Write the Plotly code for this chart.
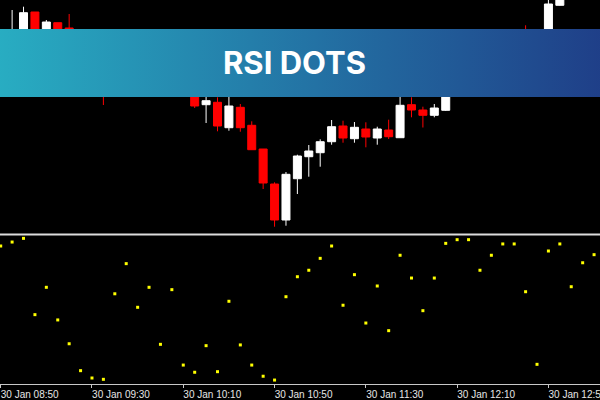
import plotly.graph_objects as go

# ---- data ----
bar_index = list(range(53))

opens = [1.08420, 1.08460, 1.08455, 1.08488, 1.08462, 1.084773, 1.08472, 1.08450, 1.08430, 1.08415,
         1.08405, 1.08425, 1.08445, 1.08430, 1.08440, 1.08420, 1.08430, 1.08412, 1.083953, 1.083977,
         1.083723, 1.083927, 1.083747, 1.08351, 1.08316, 1.08280, 1.083213, 1.083433, 1.083473, 1.083583,
         1.08374, 1.083613, 1.08371, 1.08362, 1.08370, 1.083623, 1.083953, 1.08390, 1.083847, 1.083897,
         1.08415, 1.08435, 1.08450, 1.08440, 1.08452, 1.08460, 1.08464, 1.08445, 1.08415, 1.084947,
         1.08515, 1.08505, 1.08525]
highs = [1.08450, 1.08490, 1.084933, 1.08488, 1.08480, 1.084773, 1.08486, 1.08455, 1.08435, 1.08420,
         1.08430, 1.08450, 1.08448, 1.08445, 1.08442, 1.08435, 1.08434, 1.08415, 1.08405, 1.084027,
         1.08405, 1.08396, 1.083787, 1.08351, 1.083177, 1.08328, 1.083453, 1.08355, 1.083607, 1.08380,
         1.083793, 1.08378, 1.083777, 1.083733, 1.083803, 1.08405, 1.084027, 1.083933, 1.08396, 1.08420,
         1.08440, 1.08455, 1.08454, 1.08456, 1.08465, 1.08467, 1.084747, 1.08450, 1.08505, 1.08520,
         1.08520, 1.08530, 1.08545]
lows = [1.08412, 1.08440, 1.08450, 1.08455, 1.08458, 1.08450, 1.08445, 1.08425, 1.08410, 1.08395,
        1.08404, 1.08422, 1.08425, 1.08428, 1.08415, 1.08416, 1.08408, 1.08392, 1.08377, 1.083687,
        1.083693, 1.083683, 1.08350, 1.08311, 1.082733, 1.082743, 1.08306, 1.083233, 1.083333, 1.083553,
        1.083573, 1.083573, 1.083527, 1.083553, 1.08361, 1.083623, 1.083827, 1.083725, 1.083827, 1.08389,
        1.08412, 1.08432, 1.08436, 1.08438, 1.08448, 1.08456, 1.08440, 1.08410, 1.08412, 1.084943,
        1.08503, 1.08503, 1.08520]
closes = [1.08440, 1.08465, 1.084873, 1.08460, 1.08478, 1.08455, 1.08450, 1.08430, 1.08415, 1.08405,
          1.08425, 1.08445, 1.08430, 1.08440, 1.08420, 1.08430, 1.08412, 1.08394, 1.083993, 1.08374,
          1.08394, 1.083723, 1.083503, 1.08317, 1.08280, 1.083257, 1.08344, 1.08349, 1.083583, 1.083733,
          1.08362, 1.083727, 1.08363, 1.08371, 1.083633, 1.083947, 1.08390, 1.083847, 1.08392, 1.08415,
          1.08435, 1.08450, 1.08440, 1.08452, 1.08460, 1.08464, 1.08445, 1.08415, 1.08496, 1.08515,
          1.08505, 1.08525, 1.08540]

rsi = [93.2, 95.9, 98.4, 46.5, 65.1, 42.9, 26.7, 8.4, 3.4, 2.5,
       60.7, 81.2, 51.5, 65.1, 26.3, 63.5, 12.2, 7.3, 25.4, 7.7,
       55.6, 25.9, 12.2, 4.6, 2.0, 58.7, 72.3, 76.7, 84.8, 93.2,
       52.9, 73.7, 40.8, 66.0, 35.6, 86.9, 71.4, 49.2, 71.4, 95.0,
       97.5, 97.5, 76.7, 86.9, 94.6, 94.6, 62.1, 12.7, 89.8, 94.6,
       65.5, 81.8, 87.3]

tick_index = [0, 8, 16, 24, 32, 40, 48]
tick_labels = ["30 Jan 08:50", "30 Jan 09:30", "30 Jan 10:10", "30 Jan 10:50",
               "30 Jan 11:30", "30 Jan 12:10", "30 Jan 12:50"]

banner_title = "RSI DOTS"
banner_top = 1.08471
banner_bottom = 1.08403

# ---- figure ----
fig = go.Figure()

fig.add_trace(go.Candlestick(
    x=bar_index, open=opens, high=highs, low=lows, close=closes,
    increasing=dict(line=dict(color="#ffffff", width=1), fillcolor="#ffffff"),
    decreasing=dict(line=dict(color="#ff0000", width=1), fillcolor="#ff0000"),
    xaxis="x", yaxis="y", showlegend=False, hoverinfo="skip",
))

fig.add_trace(go.Scatter(
    x=[-5, 60, 60, -5, -5],
    y=[banner_top, banner_top, banner_bottom, banner_bottom, banner_top],
    mode="none", fill="toself",
    fillgradient=dict(type="horizontal",
                      colorscale=[[0, "#29b7c7"], [0.5, "#2372a4"], [1, "#1e3080"]]),
    xaxis="x", yaxis="y", showlegend=False, hoverinfo="skip",
))

fig.add_trace(go.Scatter(
    x=bar_index, y=rsi, mode="markers",
    marker=dict(color="#ffff00", size=3, symbol="square", line=dict(width=0)),
    xaxis="x2", yaxis="y2", showlegend=False, hoverinfo="skip",
))

xr = [-0.061, 52.52]
fig.update_layout(
    width=600, height=400,
    margin=dict(l=0, r=0, t=0, b=16, autoexpand=False),
    paper_bgcolor="#000000", plot_bgcolor="#000000",
    boxgap=0.3, boxgroupgap=0,
    hovermode=False,
    xaxis=dict(domain=[0, 1], range=xr, anchor="y", visible=False, automargin=False,
               rangeslider=dict(visible=False), showgrid=False, zeroline=False),
    yaxis=dict(domain=[0.3906, 1], range=[1.08266, 1.08500], anchor="x",
               visible=False, showgrid=False, zeroline=False),
    xaxis2=dict(domain=[0, 1], range=xr, anchor="y2", showgrid=False, zeroline=False,
                automargin=False,
                showline=True, linecolor="#c8c8c8", linewidth=1,
                ticks="outside", ticklen=3, tickcolor="#c8c8c8",
                tickvals=tick_index, ticktext=tick_labels,
                tickfont=dict(family="Liberation Sans", size=10, color="#e6e6e6"),
                ticklabelshift=29, ticklabeloverflow="allow", ticklabelstandoff=-2),
    yaxis2=dict(domain=[0, 0.3854], range=[-0.68, 100], anchor="x2",
                visible=False, showgrid=False, zeroline=False),
    shapes=[dict(type="line", xref="paper", yref="paper", x0=0, x1=1,
                 y0=0.3893, y1=0.3893, line=dict(color="#dcdcdc", width=2))],
    annotations=[dict(text="<b>" + banner_title + "</b>", xref="paper", yref="paper",
                      x=0.49, y=0.836, xanchor="center", yanchor="middle", showarrow=False,
                      font=dict(family="Inter", size=31, color="#ffffff"))],
)

fig.write_html("out.html", config={"displayModeBar": False, "staticPlot": True},
               post_script="document.body.style.margin='0';document.body.style.overflow='hidden';")
